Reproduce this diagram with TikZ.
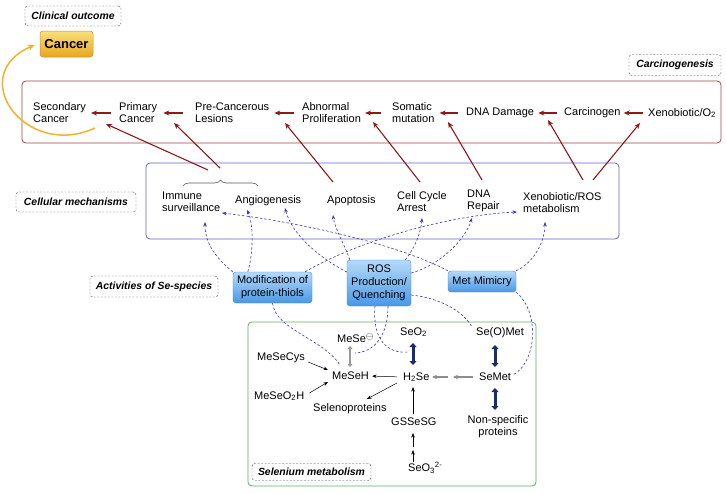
\documentclass[tikz,border=0pt]{standalone}
\usepackage{fontspec}
\setmainfont{Liberation Sans}
\usetikzlibrary{arrows.meta,decorations.pathreplacing}
\definecolor{redline}{HTML}{8B1A1A}
\definecolor{redboxc}{HTML}{A84545}
\definecolor{blueboxc}{HTML}{6464C8}
\definecolor{greenboxc}{HTML}{62B062}
\definecolor{dashblue}{HTML}{3A3AB0}
\definecolor{goldc}{HTML}{F0B429}
\definecolor{navyc}{HTML}{1C2A6E}
\definecolor{bluetop}{HTML}{B4DAFA}
\definecolor{bluebot}{HTML}{4A98E6}
\definecolor{goldtop}{HTML}{FAE07A}
\definecolor{goldbot}{HTML}{E8A622}
\begin{document}
\begin{tikzpicture}[x=1pt,y=-1pt,
 txt/.style={font=\fontsize{11}{12}\selectfont, inner sep=0pt, align=left, anchor=west},
 lbl/.style={draw=black!70, dash pattern=on 2pt off 1.5pt, rounded corners=3pt, font=\fontsize{10.4}{12}\selectfont\bfseries\itshape, inner sep=0pt},
 bigbox/.style={line width=0.8pt, rounded corners=4pt, inner sep=0pt},
 bluebx/.style={rounded corners=3pt, top color=bluetop, bottom color=bluebot, draw=bluebot!90!black, line width=0.4pt, font=\fontsize{11}{13}\selectfont, align=center, inner sep=0pt},
 redarr/.style={draw=redline, line width=1.1pt, -{Stealth[length=6pt,width=5pt]}},
 dasharr/.style={draw=dashblue, line width=0.6pt, dash pattern=on 2.5pt off 2pt, -{Stealth[length=4.5pt,width=3.5pt]}},
 dashln/.style={draw=dashblue, line width=0.6pt, dash pattern=on 2.5pt off 2pt},
 blk/.style={draw=black, line width=0.5pt, -{Stealth[length=4.5pt,width=3.5pt]}},
 gry/.style={draw=black!45, line width=1.2pt, -{Stealth[length=5pt,width=4.5pt]}},
 dblarr/.style={draw=navyc, line width=3pt, {Triangle[length=4pt,width=7pt]}-{Triangle[length=4pt,width=7pt]}},
 grydbl/.style={draw=black!40, line width=2.2pt, {Triangle[length=3pt,width=5pt]}-{Triangle[length=3pt,width=5pt]}},
]
\useasboundingbox[fill=white] (0,0) rectangle (726,493);

% containers
\node[bigbox, draw=redboxc, minimum width=699pt, minimum height=62pt] (carcbox) at (371.5,112) {};
\node[bigbox, draw=blueboxc, minimum width=473pt, minimum height=76pt] (mechbox) at (382.5,201) {};
\node[bigbox, draw=greenboxc, minimum width=288pt, minimum height=164pt] (metabox) at (392,404) {};

% labels
\node[lbl, minimum width=96pt, minimum height=20pt] (clin) at (73,16) {Clinical outcome};
\node[lbl, minimum width=92pt, minimum height=21pt] (carcl) at (675,65) {Carcinogenesis};
\node[lbl, minimum width=120pt, minimum height=20pt] (cellm) at (76,202) {Cellular mechanisms};
\node[lbl, minimum width=128pt, minimum height=21pt] (actl) at (154,286.5) {Activities of Se-species};
\node[lbl, minimum width=119pt, minimum height=17pt] (selm) at (311.5,472) {Selenium metabolism};

% cancer
\node[draw=goldbot!90!black, line width=0.5pt, rounded corners=3pt, top color=goldtop, bottom color=goldbot, minimum width=53pt, minimum height=26pt, inner sep=0pt, font=\fontsize{13}{15}\selectfont\bfseries] (cancer) at (66.5,44) {Cancer};

% carcinogenesis row
\node[txt] (sec) at (33,113) {Secondary\\Cancer};
\node[txt] (prim) at (119,113) {Primary\\Cancer};
\node[txt] (pre) at (195,113) {Pre-Cancerous\\Lesions};
\node[txt] (abn) at (302,113) {Abnormal\\Proliferation};
\node[txt] (som) at (392,113) {Somatic\\mutation};
\node[txt] (dna) at (466,113) {DNA Damage};
\node[txt] (carcn) at (564,113) {Carcinogen};
\node[txt] (xeno) at (648,113) {Xenobiotic/O\textsubscript{2}};

% mechanisms row
\node[txt] (imm) at (162,201.5) {Immune\\surveillance};
\node[txt] (ang) at (235,201) {Angiogenesis};
\node[txt] (apo) at (327,201) {Apoptosis};
\node[txt] (cca) at (397,202) {Cell Cycle\\Arrest};
\node[txt] (dnar) at (467,201) {DNA\\Repair};
\node[txt] (xros) at (523,203) {Xenobiotic/ROS\\metabolism};

% activities
\node[bluebx, minimum width=79pt, minimum height=31pt] (mod) at (272.5,287.5) {Modification of\\protein-thiols};
\node[bluebx, minimum width=64pt, minimum height=46pt] (ros) at (379,283) {ROS\\Production/\\Quenching};
\node[bluebx, minimum width=68pt, minimum height=21pt] (met) at (482,281.5) {Met Mimicry};

% selenium metabolism
\node[txt] (mese) at (337,338) {MeSe\raisebox{3.5pt}{\fontsize{10}{10}\selectfont$\ominus$}};
\node[txt] (mesh) at (332,376) {MeSeH};
\node[txt] (mesecys) at (257,358) {MeSeCys};
\node[txt] (meseo) at (254,396) {MeSeO\textsubscript{2}H};
\node[txt] (selp) at (313,409) {Selenoproteins};
\node[txt] (seo2) at (400,332) {SeO\textsubscript{2}};
\node[txt] (h2se) at (403,377) {H\textsubscript{2}Se};
\node[txt] (gssg) at (391,422) {GSSeSG};
\node[txt] (seo3) at (408,468) {SeO\textsubscript{3}\textsuperscript{2-}};
\node[txt] (seomet) at (476,333) {Se(O)Met};
\node[txt] (semet) at (479,377) {SeMet};
\node[txt, align=center, anchor=center] (nonsp) at (498,427) {Non-specific\\proteins};

% horizontal red arrows
\draw[redarr, shorten <=8pt, shorten >=5pt] (prim.west) -- (sec.east);
\draw[redarr, shorten <=12pt, shorten >=6pt] (pre.west) -- (prim.east);
\draw[redarr, shorten <=8pt, shorten >=5pt] (abn.west) -- (pre.east);
\draw[redarr, shorten <=11pt, shorten >=4pt] (som.west) -- (abn.east);
\draw[redarr, shorten <=8pt, shorten >=5pt] (dna.west) -- (som.east);
\draw[redarr, shorten <=7pt, shorten >=4pt] (carcn.west) -- (dna.east);
\draw[redarr, shorten <=5pt, shorten >=3pt] (xeno.west) -- (carcn.east);

% brace and diagonal red arrows
\draw[black!65, line width=0.6pt, decorate, decoration={brace, amplitude=6pt}] (183,186) -- (258,186);
\coordinate (bt1) at (208,170);
\coordinate (bt2) at (220,168);
\draw[redarr] (bt1) -- ([xshift=73pt,yshift=-11pt]sec.west);
\draw[redarr] (bt2) -- ([xshift=55pt,yshift=-10pt]prim.west);
\draw[redarr] ([xshift=6pt,yshift=19pt]apo.west) -- ([xshift=90pt,yshift=-10pt]pre.west);
\draw[redarr] ([xshift=23pt,yshift=20pt]cca.west) -- ([xshift=71pt,yshift=-9pt]abn.west);
\draw[redarr] ([xshift=15pt,yshift=21pt]dnar.west) -- ([xshift=56pt,yshift=-9pt]som.west);
\draw[redarr] ([xshift=60pt,yshift=23pt]xros.west) -- ([xshift=82pt,yshift=-7pt]dna.west);
\draw[redarr] ([xshift=70pt,yshift=23pt]xros.west) -- ([xshift=-8pt,yshift=-10pt]xeno.west);

% gold arc
\draw[goldc, line width=1.5pt, -{Stealth[length=7pt,width=6pt]}] ([xshift=62pt,yshift=-15pt]sec.west) .. controls (25,160) and (-35,75) .. ([xshift=-5pt,yshift=-1pt]cancer.west);

% dashed arrows activities -> mechanisms
\draw[dasharr] (mod.north west) .. controls (212,255) and (205,240) .. ([xshift=43pt,yshift=-20.5pt]imm.west);
\draw[dasharr] ([xshift=15pt]mod.north west) .. controls (253,255) and (254,225) .. ([xshift=12pt,yshift=-9pt]ang.west);
\draw[dasharr] ([xshift=-7pt]mod.north east) .. controls (360,240) and (450,215) .. ([xshift=-6pt,yshift=-9pt]xros.west);
\draw[dasharr] ([yshift=11pt]ros.west) .. controls (320,258) and (292,235) .. ([xshift=50pt,yshift=-7pt]ang.west);
\draw[dasharr] ([xshift=3pt]ros.north west) .. controls (345,245) and (335,230) .. ([xshift=6pt,yshift=-14pt]apo.west);
\draw[dasharr] ([xshift=-6pt]ros.north east) .. controls (415,248) and (421,232) .. ([xshift=25pt,yshift=-16pt]cca.west);
\draw[dasharr] ([yshift=10pt]ros.east) .. controls (440,265) and (465,240) .. ([xshift=5pt,yshift=-17pt]dnar.west);
\draw[dasharr] (met.north west) .. controls (400,245) and (300,222) .. ([xshift=60pt,yshift=-11.5pt]imm.west);
\draw[dasharr] (met.north east) .. controls (535,262) and (545,240) .. ([xshift=22pt,yshift=-19pt]xros.west);

% dashed lines activities -> metabolism
\draw[dashln] (mod.south) .. controls (276,330) and (322,338) .. ([xshift=8pt,yshift=11pt]mesh.west);
\draw[dashln] ([xshift=9pt]ros.south) .. controls (388,335) and (375,352) .. ([xshift=18pt,yshift=-15pt]mese.west);
\draw[dashln] ([xshift=-4pt]ros.south) .. controls (372,340) and (388,354) .. ([xshift=5pt,yshift=25pt]h2se.west);
\draw[dashln] ([yshift=-12pt]ros.east) .. controls (440,298) and (463,311) .. ([xshift=-4pt,yshift=6pt]seomet.west);
\draw[dashln] (met.south east) .. controls (540,312) and (537,362) .. ([xshift=34pt,yshift=2pt]semet.west);

% metabolism arrows
\draw[blk] ([xshift=3pt,yshift=-4pt]mesecys.east) -- ([xshift=-4pt,yshift=6pt]mesh.west);
\draw[blk] ([xshift=5pt,yshift=3pt]meseo.east) -- ([xshift=-4pt,yshift=-6pt]mesh.west);
\draw[blk, shorten <=6pt, shorten >=3pt] (h2se.west) -- (mesh.east);
\draw[blk] ([xshift=-6pt,yshift=-6pt]h2se.west) -- ([xshift=54pt,yshift=10pt]selp.west);
\draw[blk] ([xshift=22pt,yshift=8pt]gssg.west) -- ([xshift=10pt,yshift=-10pt]h2se.west);
\draw[blk] ([xshift=5pt,yshift=6pt]seo3.west) -- ([xshift=22pt,yshift=-28pt]gssg.west);
\draw[blk] ([xshift=22pt,yshift=-25pt]gssg.west) -- ([xshift=22pt,yshift=-11pt]gssg.west);
\draw[gry] ([xshift=-6pt]semet.west) -- ([xshift=-26pt]semet.west);
\draw[gry] ([xshift=-31pt]semet.west) -- ([xshift=-47pt]semet.west);
\draw[grydbl] ([xshift=13pt,yshift=-8pt]mese.west) -- ([xshift=18pt,yshift=9pt]mesh.west);
\draw[dblarr] ([xshift=13pt,yshift=-11pt]seo2.west) -- ([xshift=10pt,yshift=12pt]h2se.west);
\draw[dblarr] ([xshift=19pt,yshift=-12pt]seomet.west) -- ([xshift=16pt,yshift=10pt]semet.west);
\draw[dblarr] ([xshift=16pt,yshift=-11pt]semet.west) -- ([xshift=-3pt,yshift=17pt]nonsp.center);
\end{tikzpicture}
\end{document}
